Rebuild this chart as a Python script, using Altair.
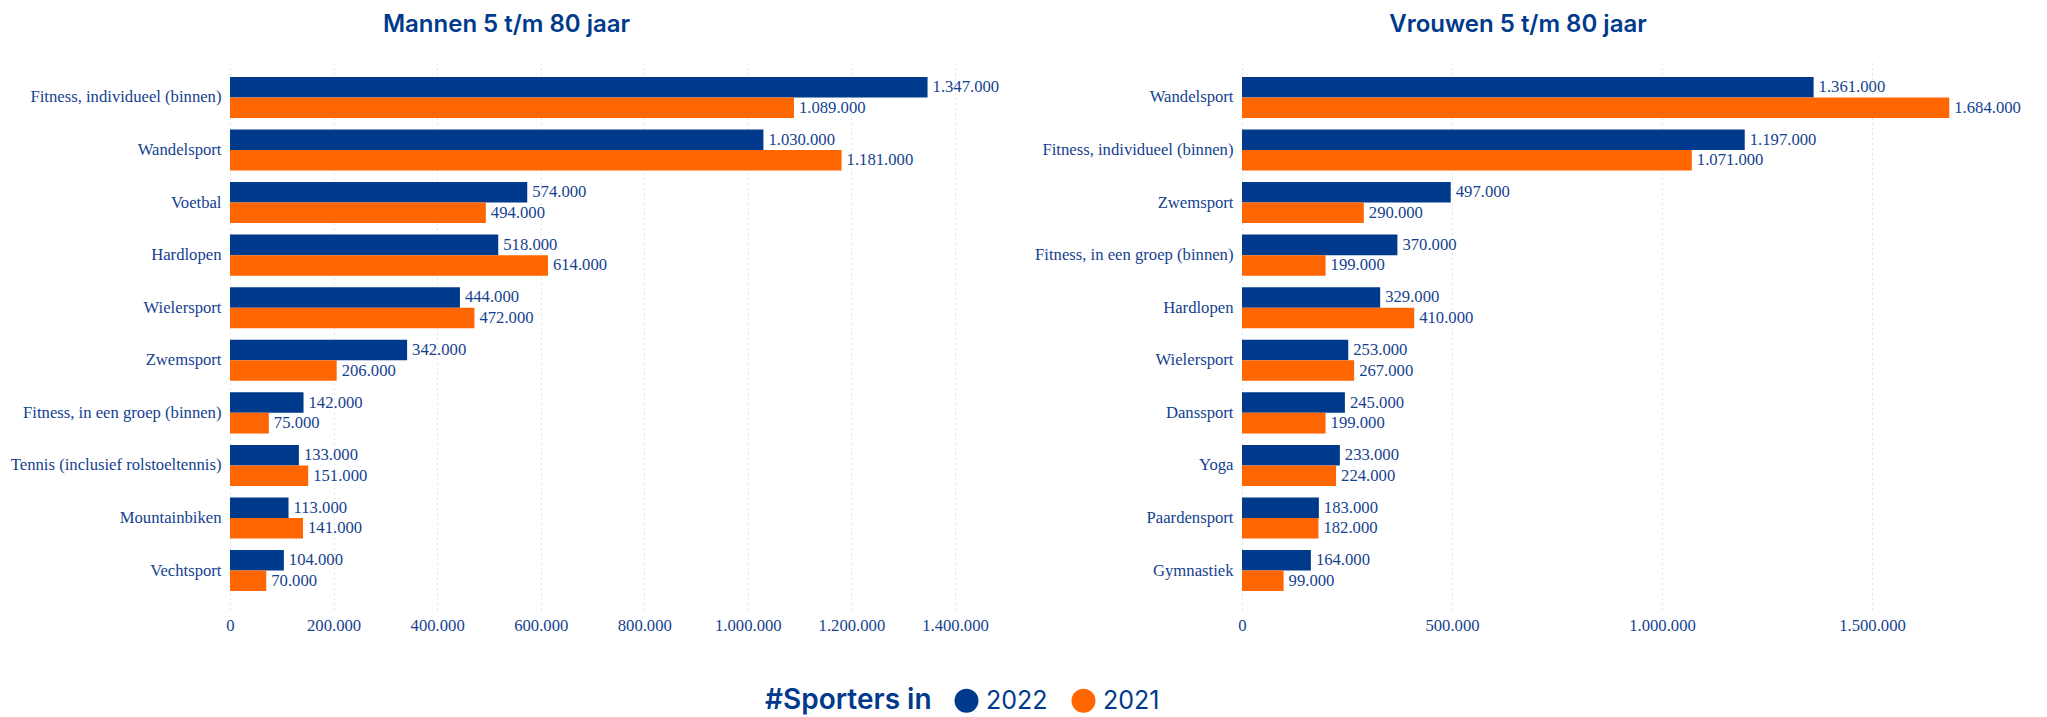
import altair as alt
import pandas as pd

years = ["2022", "2021"]

men_sports = [
    "Fitness, individueel (binnen)", "Wandelsport", "Voetbal", "Hardlopen",
    "Wielersport", "Zwemsport", "Fitness, in een groep (binnen)",
    "Tennis (inclusief rolstoeltennis)", "Mountainbiken", "Vechtsport",
]
men_2022 = [1347000, 1030000, 574000, 518000, 444000, 342000, 142000, 133000, 113000, 104000]
men_2021 = [1089000, 1181000, 494000, 614000, 472000, 206000, 75000, 151000, 141000, 70000]

women_sports = [
    "Wandelsport", "Fitness, individueel (binnen)", "Zwemsport",
    "Fitness, in een groep (binnen)", "Hardlopen", "Wielersport",
    "Danssport", "Yoga", "Paardensport", "Gymnastiek",
]
women_2022 = [1361000, 1197000, 497000, 370000, 329000, 253000, 245000, 233000, 183000, 164000]
women_2021 = [1684000, 1071000, 290000, 199000, 410000, 267000, 199000, 224000, 182000, 99000]

men_ticks = [0, 200000, 400000, 600000, 800000, 1000000, 1200000, 1400000]
women_ticks = [0, 500000, 1000000, 1500000]

NAVY = "#003a8c"
ORANGE = "#ff6600"
TEXT = "#153f8f"
SERIF = "Liberation Serif"
SANS = "Inter"
FS = 16.67
FMT = "replace(format(datum.value, ','), regexp(',', 'g'), '.')"


def make_df(sports, v22, v21):
    rows = []
    for s, a, b in zip(sports, v22, v21):
        rows.append({"sport": s, "year": "2022", "value": a})
        rows.append({"sport": s, "year": "2021", "value": b})
    return pd.DataFrame(rows)


legend = alt.Legend(
    orient="none", legendX=535, legendY=629, direction="horizontal",
    title="#Sporters in", titleOrient="left", titleFont=SANS, titleFontSize=28,
    titleFontWeight=600, titleColor=NAVY, titlePadding=22, titleBaseline="middle",
    labelFont=SANS, labelFontSize=25, labelColor=NAVY, labelOffset=7,
    symbolType="circle", symbolSize=576, symbolStrokeWidth=0, columnPadding=23,
    padding=0,
)


def panel(df, sports, title, xmax, width, ticks, title_dx, show_legend):
    base = alt.Chart(df).encode(
        y=alt.Y(
            "sport:N", sort=sports, title=None,
            scale=alt.Scale(paddingInner=0.22, paddingOuter=0.34),
            axis=alt.Axis(domain=False, ticks=False, labelFont=SERIF, labelFontSize=FS,
                          labelColor=TEXT, labelPadding=9, labelLimit=400),
        ),
        yOffset=alt.YOffset("year:N", sort=years),
        x=alt.X(
            "value:Q", title=None,
            scale=alt.Scale(domain=[0, xmax], nice=False),
            axis=alt.Axis(values=ticks, labelExpr=FMT, domain=False, ticks=False,
                          grid=True, gridColor="#c8c8c8", gridDash=[1, 4],
                          labelFont=SERIF, labelFontSize=FS, labelColor=TEXT,
                          labelPadding=8, labelFlush=False, labelOverlap=False),
        ),
    )
    bars = base.mark_bar().encode(
        color=alt.Color("year:N", sort=years,
                        scale=alt.Scale(domain=years, range=[NAVY, ORANGE]),
                        legend=legend if show_legend else None)
    )
    text = base.transform_calculate(label=FMT).mark_text(
        align="left", baseline="middle", dx=5, font=SERIF, fontSize=FS, color=TEXT
    ).encode(text="label:N")
    return alt.layer(bars, text).properties(
        width=width, height=550,
        title=alt.TitleParams(title, anchor="middle", frame="group", dx=title_dx,
                              font=SANS, fontSize=24, fontWeight=600, color=NAVY,
                              offset=22),
    )


left = panel(make_df(men_sports, men_2022, men_2021), men_sports,
             "Mannen 5 t/m 80 jaar", 1400000, 725, men_ticks, -86, True)
right = panel(make_df(women_sports, women_2022, women_2021), women_sports,
              "Vrouwen 5 t/m 80 jaar", 1700000, 714, women_ticks, -81, False)

chart = alt.hconcat(left, right, spacing=287, bounds="flush").properties(
    padding={"left": 2, "top": 5, "right": 5, "bottom": 5}
).configure_view(stroke=None)

chart.save("out.html", embed_options={"renderer": "svg", "actions": False})
